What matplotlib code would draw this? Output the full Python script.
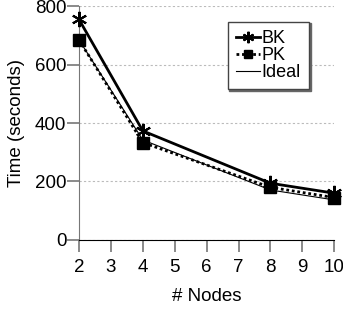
import matplotlib
matplotlib.use("Agg")
import matplotlib.pyplot as plt

plt.rcParams["font.family"] = ["Liberation Sans", "DejaVu Sans"]
plt.rcParams["font.size"] = 13.5

# data
nodes = [2, 4, 8, 10]
bk = [754, 373, 194, 160]
pk = [684, 333, 180, 145]
ideal = [684, 342, 171, 137]
xticks = [2, 3, 4, 5, 6, 7, 8, 9, 10]
yticks = [0, 200, 400, 600, 800]

fig = plt.figure(figsize=(3.43, 3.11), dpi=100)
ax = fig.add_axes([0.2303, 0.2283, 0.7443, 0.7524])

ax.plot(nodes, bk, color="black", lw=2, marker=(6, 2, 0), ms=11, mew=1.5,
        label="BK", clip_on=False, zorder=4)
ax.plot(nodes, pk, color="black", lw=2, ls=(0, (1, 1)), marker="s", ms=8.5,
        label="PK", clip_on=False, zorder=4)
ax.plot(nodes, ideal, color="black", lw=0.8, label="Ideal", clip_on=False, zorder=3)

ax.set_xlim(2, 10)
ax.set_ylim(0, 800)
ax.set_xticks(xticks)
ax.set_yticks(yticks)
ax.yaxis.grid(True, ls=(0, (2, 2)), color="#bbbbbb", lw=0.8)
ax.set_axisbelow(True)

for s in ["top", "right"]:
    ax.spines[s].set_visible(False)
ax.spines["left"].set_color("#777777")
ax.spines["bottom"].set_color("black")
ax.tick_params(axis="both", colors="#777777", labelcolor="black", length=8.5, width=1.2)
ax.tick_params(axis="x", pad=5)
ax.tick_params(axis="y", pad=0.5)

ax.set_xlabel("# Nodes", labelpad=9)
ax.set_ylabel("Time (seconds)", labelpad=7)

leg = ax.legend(loc="upper left", bbox_to_anchor=(0.584, 0.932), frameon=True,
                fancybox=False, edgecolor="#444444", handlelength=1.3,
                handletextpad=0.12, borderpad=0.45, labelspacing=0.0,
                borderaxespad=0, framealpha=1, fontsize=13, markerscale=0.75,
                shadow={"color": "#666666", "alpha": 1, "ox": 1, "oy": -1})
leg.get_frame().set_linewidth(1.0)

fig.savefig("out.png", dpi=100)
